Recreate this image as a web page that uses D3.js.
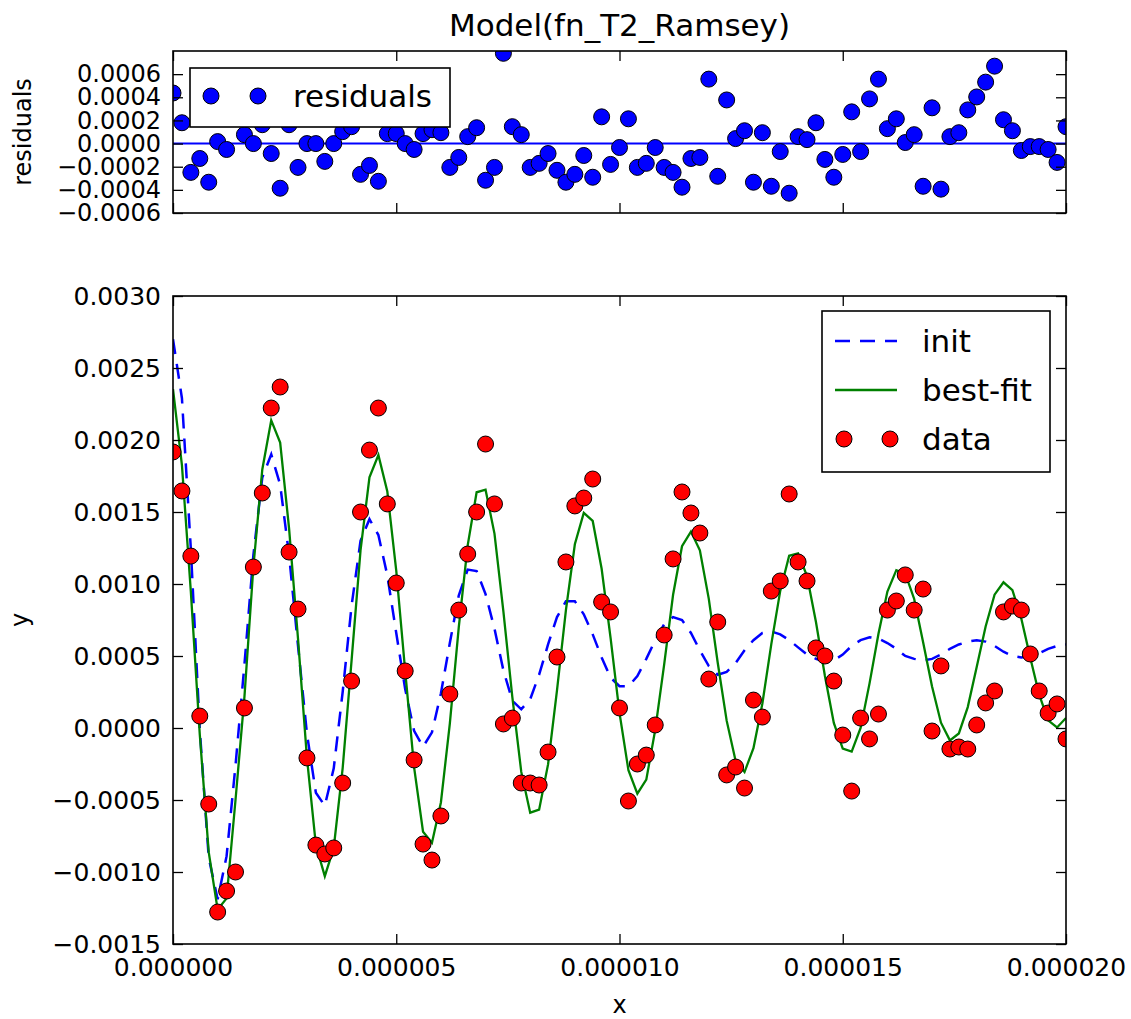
<!DOCTYPE html>
<html>
<head>
<meta charset="utf-8">
<script src="https://cdn.jsdelivr.net/npm/d3@7/dist/d3.min.js"></script>
<style>
  body { margin: 0; background: #fff; }
  svg { font-family: "DejaVu Sans", sans-serif; }
</style>
</head>
<body>
<svg id="chart" width="1131" height="1019"></svg>
<script>
// time axis in microseconds (0 .. 20 us, 101 samples)
const timeUs = [
  0.0, 0.2, 0.4, 0.6, 0.8, 1.0, 1.2, 1.4, 1.6, 1.8,
  2.0, 2.2, 2.4, 2.6, 2.8, 3.0, 3.2, 3.4, 3.6, 3.8,
  4.0, 4.2, 4.4, 4.6, 4.8, 5.0, 5.2, 5.4, 5.6, 5.8,
  6.0, 6.2, 6.4, 6.6, 6.8, 7.0, 7.2, 7.4, 7.6, 7.8,
  8.0, 8.2, 8.4, 8.6, 8.8, 9.0, 9.2, 9.4, 9.6, 9.8,
  10.0, 10.2, 10.4, 10.6, 10.8, 11.0, 11.2, 11.4, 11.6, 11.8,
  12.0, 12.2, 12.4, 12.6, 12.8, 13.0, 13.2, 13.4, 13.6, 13.8,
  14.0, 14.2, 14.4, 14.6, 14.8, 15.0, 15.2, 15.4, 15.6, 15.8,
  16.0, 16.2, 16.4, 16.6, 16.8, 17.0, 17.2, 17.4, 17.6, 17.8,
  18.0, 18.2, 18.4, 18.6, 18.8, 19.0, 19.2, 19.4, 19.6, 19.8,
  20.0
];

// measured data (red dots)
const dataY = [
  0.001917, 0.001646, 0.001194, 0.000083, -0.000528, -0.001278, -0.001132, -0.001000, 0.000139, 0.001118,
  0.001632, 0.002222, 0.002368, 0.001222, 0.000826, -0.000208, -0.000813, -0.000875, -0.000833, -0.000382,
  0.000326, 0.001500, 0.001930, 0.002222, 0.001556, 0.001007, 0.000396, -0.000222, -0.000806, -0.000917,
  -0.000611, 0.000236, 0.000819, 0.001208, 0.001500, 0.001972, 0.001556, 0.000028, 0.000069, -0.000382,
  -0.000382, -0.000396, -0.000167, 0.000493, 0.001153, 0.001542, 0.001597, 0.001729, 0.000875, 0.000806,
  0.000139, -0.000507, -0.000250, -0.000188, 0.000021, 0.000646, 0.001174, 0.001639, 0.001493, 0.001354,
  0.000340, 0.000736, -0.000326, -0.000271, -0.000417, 0.000194, 0.000076, 0.000951, 0.001021, 0.001625,
  0.001153, 0.001021, 0.000556, 0.000500, 0.000326, -0.000049, -0.000438, 0.000069, -0.000076, 0.000097,
  0.000819, 0.000882, 0.001063, 0.000819, 0.000965, -0.000021, 0.000431, -0.000146, -0.000132, -0.000146,
  0.000021, 0.000174, 0.000257, 0.000806, 0.000847, 0.000819, 0.000514, 0.000257, 0.000104, 0.000167,
  -0.000076
];

// residuals (top panel)
const residualY = [
  0.000437, 0.000180, -0.000249, -0.000129, -0.000334, 0.000017, -0.000051, 0.000500, 0.000077, 0.000000,
  0.000163, -0.000086, -0.000386, 0.000163, -0.000206, 0.000000, 0.000000, -0.000154, 0.000000, 0.000103,
  0.000146, -0.000266, -0.000189, -0.000326, 0.000086, 0.000086, 0.000000, -0.000051, 0.000086, 0.000120,
  0.000094, -0.000206, -0.000120, 0.000060, 0.000137, -0.000317, -0.000206, 0.000780, 0.000146, 0.000077,
  -0.000206, -0.000171, -0.000086, -0.000231, -0.000334, -0.000266, -0.000103, -0.000291, 0.000231, -0.000180,
  -0.000034, 0.000214, -0.000206, -0.000171, -0.000034, -0.000206, -0.000249, -0.000377, -0.000129, -0.000120,
  0.000557, -0.000283, 0.000377, 0.000043, 0.000111, -0.000334, 0.000094, -0.000369, -0.000069, -0.000429,
  0.000060, 0.000034, 0.000180, -0.000137, -0.000291, -0.000094, 0.000274, -0.000069, 0.000386, 0.000557,
  0.000129, 0.000214, 0.000009, 0.000077, -0.000369, 0.000309, -0.000394, 0.000060, 0.000094, 0.000291,
  0.000403, 0.000531, 0.000669, 0.000206, 0.000111, -0.000060, -0.000026, -0.000026, -0.000051, -0.000163,
  0.000146
];

// best-fit curve (green)
const bestFitY = [
  0.002354, 0.001826, 0.000945, -0.000046, -0.000862, -0.001261, -0.001183, -0.000500, 0.000216, 0.001118,
  0.001795, 0.002136, 0.001982, 0.001385, 0.000620, -0.000208, -0.000813, -0.001029, -0.000833, -0.000279,
  0.000472, 0.001234, 0.001741, 0.001896, 0.001642, 0.001093, 0.000396, -0.000273, -0.000720, -0.000797,
  -0.000517, 0.000030, 0.000699, 0.001268, 0.001637, 0.001655, 0.001350, 0.000808, 0.000215, -0.000305,
  -0.000588, -0.000567, -0.000253, 0.000262, 0.000819, 0.001276, 0.001494, 0.001438, 0.001106, 0.000626,
  0.000105, -0.000293, -0.000456, -0.000359, -0.000013, 0.000440, 0.000925, 0.001262, 0.001364, 0.001234,
  0.000897, 0.000453, 0.000051, -0.000228, -0.000306, -0.000140, 0.000170, 0.000582, 0.000952, 0.001196,
  0.001213, 0.001055, 0.000736, 0.000363, 0.000035, -0.000143, -0.000164, 0.000000, 0.000310, 0.000654,
  0.000948, 0.001096, 0.001072, 0.000896, 0.000596, 0.000288, 0.000037, -0.000086, -0.000038, 0.000145,
  0.000424, 0.000705, 0.000926, 0.001012, 0.000958, 0.000759, 0.000488, 0.000231, 0.000053, 0.000004,
  0.000070
];

// initial guess curve (blue dashed)
const initY = [
  0.002700, 0.002290, 0.001240, -0.000010, -0.000900, -0.001190, -0.000890, -0.000260, 0.000440, 0.001200,
  0.001740, 0.001900, 0.001690, 0.001200, 0.000570, -0.000040, -0.000450, -0.000540, -0.000280, 0.000250,
  0.000850, 0.001300, 0.001450, 0.001340, 0.001060, 0.000660, 0.000270, -0.000020, -0.000130, -0.000030,
  0.000240, 0.000590, 0.000920, 0.001100, 0.001090, 0.000930, 0.000690, 0.000400, 0.000190, 0.000130,
  0.000200, 0.000370, 0.000580, 0.000770, 0.000880, 0.000880, 0.000790, 0.000650, 0.000490, 0.000350,
  0.000290, 0.000290, 0.000360, 0.000480, 0.000610, 0.000720, 0.000770, 0.000750, 0.000660, 0.000540,
  0.000430, 0.000370, 0.000390, 0.000450, 0.000540, 0.000610, 0.000660, 0.000670, 0.000650, 0.000610,
  0.000560, 0.000510, 0.000480, 0.000460, 0.000470, 0.000510, 0.000570, 0.000610, 0.000630, 0.000620,
  0.000590, 0.000550, 0.000500, 0.000480, 0.000470, 0.000480, 0.000510, 0.000550, 0.000580, 0.000600,
  0.000610, 0.000600, 0.000570, 0.000530, 0.000500, 0.000490, 0.000500, 0.000520, 0.000550, 0.000570,
  0.000580
];

const xTickValues = [0, 5, 10, 15, 20];
const xTickLabels = ["0.000000", "0.000005", "0.000010", "0.000015", "0.000020"];
const resTickValues = [-0.0006, -0.0004, -0.0002, 0.0, 0.0002, 0.0004, 0.0006];
const resTickLabels = ["\u22120.0006", "\u22120.0004", "\u22120.0002", "0.0000", "0.0002", "0.0004", "0.0006"];
const mainTickValues = [-0.0015, -0.0010, -0.0005, 0.0, 0.0005, 0.0010, 0.0015, 0.0020, 0.0025, 0.0030];
const mainTickLabels = ["\u22120.0015", "\u22120.0010", "\u22120.0005", "0.0000", "0.0005", "0.0010",
  "0.0015", "0.0020", "0.0025", "0.0030"];

const svg = d3.select("#chart");
const left = 173, right = 1066;
const resTop = 51, resBottom = 213;
const mainTop = 296, mainBottom = 944;

const x = d3.scaleLinear().domain([0, 20]).range([left, right]);
const yRes = d3.scaleLinear().domain([-0.0006, 0.0008]).range([resBottom, resTop]);
const yMain = d3.scaleLinear().domain([-0.0015, 0.003]).range([mainBottom, mainTop]);

const points = timeUs.map((t, i) => ({ t: t, data: dataY[i], res: residualY[i], fit: bestFitY[i], init: initY[i] }));

// clip regions
const defs = svg.append("defs");
defs.append("clipPath").attr("id", "clipRes").append("rect")
  .attr("x", left).attr("y", resTop).attr("width", right - left).attr("height", resBottom - resTop);
defs.append("clipPath").attr("id", "clipMain").append("rect")
  .attr("x", left).attr("y", mainTop).attr("width", right - left).attr("height", mainBottom - mainTop);

// title
svg.append("text")
  .attr("x", (left + right) / 2).attr("y", 36)
  .attr("text-anchor", "middle")
  .style("font-size", "31px")
  .text("Model(fn_T2_Ramsey)");

function drawAxes(yScale, top, bottom, yVals, yLabs, showX, fontSize) {
  const gL = svg.append("g").attr("transform", `translate(${left},0)`)
    .call(d3.axisLeft(yScale).tickValues(yVals).tickSize(-10).tickPadding(12)
      .tickFormat((d, i) => yLabs[i]));
  const gR = svg.append("g").attr("transform", `translate(${right},0)`)
    .call(d3.axisRight(yScale).tickValues(yVals).tickSize(-10).tickFormat(""));
  const gT = svg.append("g").attr("transform", `translate(0,${top})`)
    .call(d3.axisTop(x).tickValues(xTickValues).tickSize(-10).tickFormat(""));
  const gB = svg.append("g").attr("transform", `translate(0,${bottom})`)
    .call(d3.axisBottom(x).tickValues(xTickValues).tickSize(-10).tickPadding(14)
      .tickFormat((d, i) => showX ? xTickLabels[i] : ""));
  [gL, gR, gT, gB].forEach(g => {
    g.select(".domain").remove();
    g.selectAll(".tick line").attr("stroke", "#000").attr("stroke-width", 1.3);
    g.selectAll(".tick text").attr("fill", "#000").style("font-size", fontSize + "px")
      .style("font-family", "DejaVu Sans, sans-serif");
  });
  svg.append("rect")
    .attr("x", left).attr("y", top).attr("width", right - left).attr("height", bottom - top)
    .attr("fill", "none").attr("stroke", "#000").attr("stroke-width", 1.6);
}

// ---------- residual panel ----------
const gRes = svg.append("g").attr("clip-path", "url(#clipRes)");
gRes.append("line")
  .attr("x1", left).attr("x2", right)
  .attr("y1", yRes(0)).attr("y2", yRes(0))
  .attr("stroke", "#0000ff").attr("stroke-width", 2);
gRes.selectAll("circle").data(points).join("circle")
  .attr("cx", d => x(d.t)).attr("cy", d => yRes(d.res)).attr("r", 8)
  .attr("fill", "#0000ff").attr("stroke", "#000").attr("stroke-width", 1);

drawAxes(yRes, resTop, resBottom, resTickValues, resTickLabels, false, 24);

svg.append("text")
  .attr("transform", `translate(31,${(resTop + resBottom) / 2}) rotate(-90)`)
  .attr("text-anchor", "middle").style("font-size", "24px")
  .text("residuals");

// residual legend
const legRes = svg.append("g");
legRes.append("rect").attr("x", 190).attr("y", 68).attr("width", 260).attr("height", 59)
  .attr("fill", "#fff").attr("stroke", "#000").attr("stroke-width", 1.6);
legRes.selectAll("circle").data([211, 258]).join("circle")
  .attr("cx", d => d).attr("cy", 96).attr("r", 8)
  .attr("fill", "#0000ff").attr("stroke", "#000").attr("stroke-width", 1);
legRes.append("text").attr("x", 293).attr("y", 107).style("font-size", "31px").text("residuals");

// ---------- main panel ----------
const gMain = svg.append("g").attr("clip-path", "url(#clipMain)");
const lineInit = d3.line().x(d => x(d.t)).y(d => yMain(d.init));
const lineFit = d3.line().x(d => x(d.t)).y(d => yMain(d.fit));
gMain.append("path").datum(points).attr("d", lineInit)
  .attr("fill", "none").attr("stroke", "#0000ff").attr("stroke-width", 2.5)
  .attr("stroke-dasharray", "15,10");
gMain.append("path").datum(points).attr("d", lineFit)
  .attr("fill", "none").attr("stroke", "#008000").attr("stroke-width", 2.3);
gMain.selectAll("circle").data(points).join("circle")
  .attr("cx", d => x(d.t)).attr("cy", d => yMain(d.data)).attr("r", 8)
  .attr("fill", "#ff0000").attr("stroke", "#000").attr("stroke-width", 1);

drawAxes(yMain, mainTop, mainBottom, mainTickValues, mainTickLabels, true, 25);

svg.append("text")
  .attr("transform", `translate(28,${(mainTop + mainBottom) / 2}) rotate(-90)`)
  .attr("text-anchor", "middle").style("font-size", "24px")
  .text("y");
svg.append("text")
  .attr("x", (left + right) / 2).attr("y", 1013)
  .attr("text-anchor", "middle").style("font-size", "24px")
  .text("x");

// main legend
const legMain = svg.append("g");
legMain.append("rect").attr("x", 822).attr("y", 311).attr("width", 228).attr("height", 161)
  .attr("fill", "#fff").attr("stroke", "#000").attr("stroke-width", 1.6);
legMain.append("line").attr("x1", 835).attr("x2", 897).attr("y1", 341).attr("y2", 341)
  .attr("stroke", "#0000ff").attr("stroke-width", 2.5).attr("stroke-dasharray", "15,10");
legMain.append("line").attr("x1", 835).attr("x2", 897).attr("y1", 390).attr("y2", 390)
  .attr("stroke", "#008000").attr("stroke-width", 2.3);
legMain.selectAll("circle").data([844, 890]).join("circle")
  .attr("cx", d => d).attr("cy", 439).attr("r", 8)
  .attr("fill", "#ff0000").attr("stroke", "#000").attr("stroke-width", 1);
const legLabels = ["init", "best-fit", "data"];
const legBaselines = [352, 401, 450];
legMain.selectAll("text").data(legLabels).join("text")
  .attr("x", 922).attr("y", (d, i) => legBaselines[i])
  .style("font-size", "31px").text(d => d);
</script>
</body>
</html>
